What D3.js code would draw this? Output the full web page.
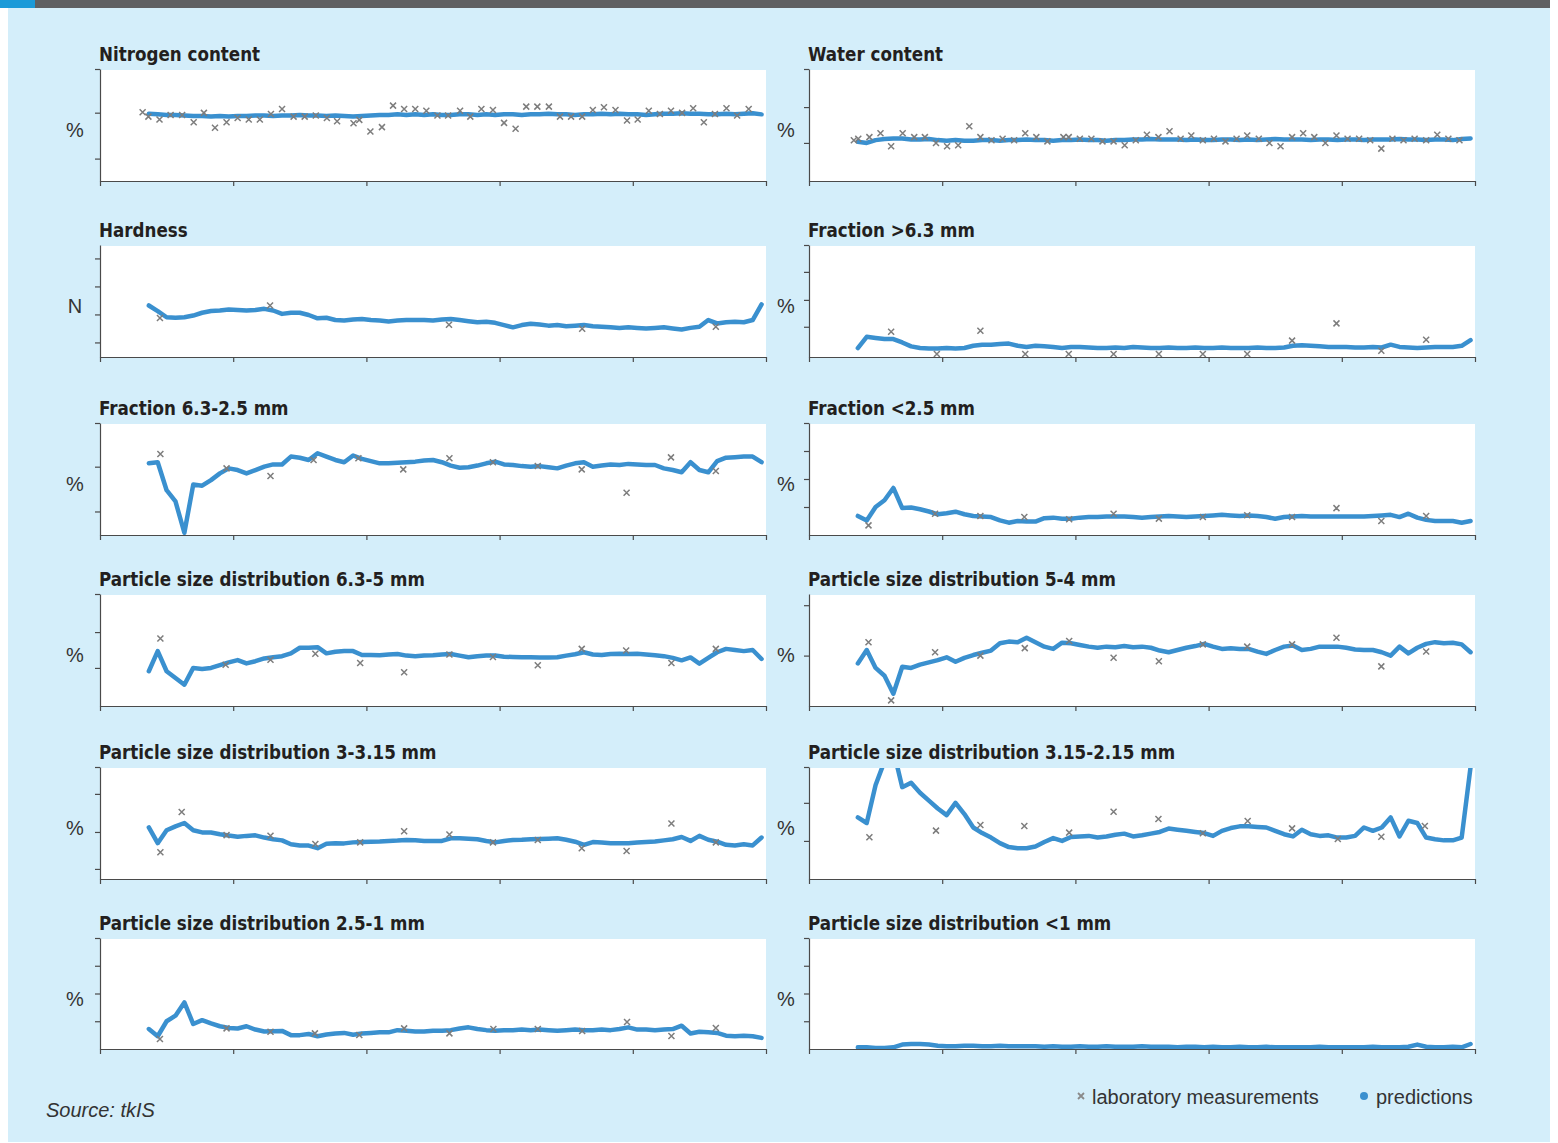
<!DOCTYPE html>
<html>
<head>
<meta charset="utf-8">
<script src="https://cdn.jsdelivr.net/npm/d3@7"></script>
<style>
  body { margin: 0; background: #fff; }
  svg text { font-family: "Liberation Sans", Arial, sans-serif; }
  svg text.title { font-family: "DejaVu Sans Condensed", "Liberation Sans", sans-serif; font-weight: bold; }
</style>
</head>
<body>
<script>
// ---- data (values in % of panel height, time in arbitrary units 0-150) ----
var timeTicks = [0, 30, 60, 90, 120, 150];
var predTimes = d3.range(11, 150, 2); // 70 prediction instants

var titles = [
  "Nitrogen content", "Water content",
  "Hardness", "Fraction >6.3 mm",
  "Fraction 6.3-2.5 mm", "Fraction <2.5 mm",
  "Particle size distribution 6.3-5 mm", "Particle size distribution 5-4 mm",
  "Particle size distribution 3-3.15 mm", "Particle size distribution 3.15-2.15 mm",
  "Particle size distribution 2.5-1 mm", "Particle size distribution <1 mm"
];
var units = ["%", "%", "N", "%", "%", "%", "%", "%", "%", "%", "%", "%"];
var yTicks = [
  [100, 61, 20], [100, 66, 34],
  [88, 63, 38, 13], [100, 76, 51, 27],
  [100, 61, 21], [100, 75, 50, 25],
  [100, 66, 34], [90, 45],
  [100, 76, 42, 9], [100, 68, 34],
  [100, 75, 50, 25], [100, 75, 50, 25]
];

var nitrogenPred = [60,59.5,59,59,58.5, 58,58,57.5,58,57.5, 58,58,58.5,58.5,58, 58.5,58.5,59,58.5,58.5,
  58,58.5,58,57.5,58, 58.5,59,59,59.5,59, 59.5,59,59.5,59,59, 59.5,59.5,59,59.5,59,
  59.5,59.5,59,59.5,59.5, 60,59.5,59.5,59,59.5, 59.5,60,59.5,60,59.5, 59.5,59,59.5,60,60,
  60.5,60,60,59.5,59.5, 60,59.5,60,60.5,59.5];
var nitrogenLabT = [9.6,10.9,13.4,15.9,18.5,21.1,23.4,25.9,28.5,31.0, 33.5,36.0,38.5,41.0,43.6,46.1,48.6,51.1,53.4,57.1,
  58.4,60.9,63.5,66.0,68.5,71.0,73.5,76.0,78.4,81.1, 83.4,85.9,88.5,91.0,93.6,96.0,98.5,101.1,103.6,106.1,
  108.6,111.0,113.5,116.1,118.7,121.1,123.6,126.1,128.6,131.1, 133.6,136.0,138.5,141.1,143.5,146.1];
var nitrogenLab = [61.3,57.5,54.9,59,59,52.5,60.8,47.5,52.5,56.3, 54.9,54.9,59.9,64.3,57.5,57.5,58.4,56.3,53.4,51.6,
  54.6,44.2,48.1,67.3,64.3,64.3,62.8,58.4,58.4,62.8, 57.5,64.3,63.4,51.9,46.6,66.4,66.4,66.4,57.5,57.5,
  57.5,63.4,65.8,63.4,54.0,54.9,62.8,59.9,62.8,60.8, 64.9,52.5,59.9,64.9,58.4,64.3];

var waterPred = [35,34,36.5,37.5,38, 38,37,37,37.5,36.5, 36,36.5,36,36,36.5,36.5,36,36.5,36.5,37,
  36.5,36.5,36,36.5,36.5,37,36.5,36.5,36,36.5, 36.5,37,37,37.5,37,37,37,36.5,37,36.5,
  36.5,37,37,36.5,37,36.5,37,37.5,37,37, 37,36.5,37,37,36.5,37,37,36.5,37,37,
  37,37.5,37,37,36.5,37,37,36.5,37.5,38];
var waterLabT = [10.1,11.1,13.6,16.1,18.5,21.1,23.7,26.1,28.6,31.1, 33.6,36.1,38.6,41.1,43.6,46.2,48.7,51.2,53.7,57.3,
  58.5,61.0,63.6,66.1,68.6,71.1,73.6,76.1,78.7,81.2, 83.7,86.1,88.7,91.2,93.8,96.3,98.7,101.3,103.7,106.2,
  108.8,111.3,113.8,116.3,118.8,121.3,123.9,126.4,128.9,131.4, 133.9,136.4,139.0,141.5,144.0,146.5];
var waterLab = [36.3,37.8,39.2,42.7,31.0,42.7,39.2,39.2,33.9,31.0, 31.9,48.9,39.2,36.3,37.8,36.3,42.7,39.2,35.4,39.2,
  39.2,37.8,37.8,35.4,35.4,31.9,36.3,41.3,39.2,44.5, 37.8,40.7,36.3,37.8,35.4,37.8,40.7,37.8,33.9,31.0,
  39.2,42.7,39.2,33.9,40.7,37.8,37.8,36.3,28.9,37.8, 36.3,37.8,36.3,41.3,37.8,36.3];

var hardnessPred = [46,41,35.5,35,35.5,37,39.5,41,41.5,42.5, 42,41.5,42,43,41.5,38.5,39.5,39.5,37.5,34.5,
  35,33,32.5,33.5,34,33,32.5,31.8,32.5,33, 33,33,32.5,33.5,34,33,32,31,31.5,30.5,
  28.5,26.5,28.5,29.7,29,28,28.5,27.5,28,28.5, 27.5,27,26.5,26,26.5,26,25.5,26,26.5,25.5,
  24.5,26,27,33,30,31,31.5,31,33,47];
var hardnessLabT = [13.5, 38.3, 78.6, 108.6, 138.7];
var hardnessLab = [34.9, 45.9, 28.8, 25.2, 27];

var coarsePred = [8,18,17,16,16,13,9.5,8,7.5,7.5, 8,7.5,8,10,11,11,11.5,12,10,9,
  10,9.5,9,8,9,9,8.5,8,8,8.5, 8,9,8.5,8,8,8.5,8,8,8.5,8,
  8,8.5,8,8,8,8.5,8,8,8.5,10, 10.5,10,9.5,9,9,9,8.5,8.5,9,8.5,
  11,9,8.5,8,8.5,9,9,9,10,15];
var coarseLabT = [18.5,28.8,38.6,48.7,58.5,68.6,78.8,88.7,98.7,108.8,118.8,128.9,139.0];
var coarseLab = [22.6,2.7,23.5,2.7,2.7,2.7,2.7,2.7,2.7,14.6,30,5.6,15.4];

var midPred = [64,65,40,30,2,45,44,49,55,59.5, 58,55,58,61,63,63,70,69,67,73,
  70,67,65,71,68,66,64,64,64.5,65, 65.5,66.5,67,65,62,60,60.5,62,64,65.5,
  63,62.5,61.5,61,61.5,60.5,59.5,62,64,65, 61,62,63,62.5,63.5,63,62.5,62.5,59.5,58,
  56,65,58,56,66,69,69.5,70,70,65];
var midLabT = [13.6,28.5,38.4,48.1,58.2,68.3,78.7,88.5,98.6,108.5,118.6,128.6,138.7];
var midLab = [72.3,59.5,52.7,67,68.5,58.6,68.5,65,61.6,58.6,37.8,69.3,57.1];

var finePred = [17,13,25,31,42,24,24.5,23,21,18.5, 19.5,20.8,18.5,17,16.5,16,13,11,12.5,12,
  12,15,15.5,14.5,14.5,15.5,16,16,16.5,16.5, 16.5,16,15.5,16,16.5,17,16.5,16,16.5,17,
  17.5,18,17.5,17,17.5,17,16,14.5,16,16.5, 17,16.5,16.5,16.5,16.5,16.5,16.5,16.5,17,17.5,
  18,16,19,15.5,13.5,12.5,12.5,12.5,11,12.5];
var fineLabT = [13.4,28.4,38.6,48.5,58.6,68.6,78.8,88.7,98.7,108.8,118.8,128.9,139.0];
var fineLab = [8.6,19,17,16,14,19,14.6,16,17.6,16,24,12.5,17];

var psd635Pred = [31,49,31,25,19,34,33,34,36.5,39, 41,38,40,42.5,43.5,44.5,47,52,52,52.5,
  47,48.5,49,49,45.5,45.5,45.3,46,46.5,45, 44.5,45,45.3,46,46.5,45,43.5,44.5,45,45,
  44,43.7,43.5,43.5,43.4,43.4,43.5,45,46.2,48, 46,45.5,46.5,46.6,46.5,46.6,46,45.3,44.5,43,
  40.8,43.4,37.8,43,48,51,50,49,50,42];
var psd635LabT = [13.6,28.3,38.4,48.5,58.6,68.5,78.7,88.5,98.6,108.5,118.5,128.7,138.7];
var psd635Lab = [60.2,36.9,41.3,46.6,38.4,30.1,46,43.7,36.3,51,49.6,38.4,51];

var psd54Pred = [38,50,34,27,11,35,34,37,39,41, 43.5,39.5,43,45.5,47.5,49.5,56,57.5,57,61,
  57,53,51,56.5,56,54.5,53,52,53,52.5, 53.5,52.5,53,52,49.5,48,50,52,53.5,55.5,
  53,51,51.5,51,51,48.5,46.5,50,53,54, 50,51,53,53,53,52,50.5,50,50,48,
  45,53,47,52,55.5,57,56,56.5,55,48];
var psd54LabT = [13.4,18.5,28.4,38.6,48.6,58.6,68.6,78.8,88.7,98.7,108.8,118.8,128.9,139.0];
var psd54Lab = [57,5,48,45,51.7,58,43,40,55,53,55,61,35.4,48.6];

var psd3315Pred = [46,32,43.5,47,50,43.5,41.6,41.5,40,38.8, 37.8,38.5,39,37,35.5,34.5,31,30,29.8,27.5,
  31.5,32,31.8,32.7,33,33.3,33.5,34,34.3,34.8, 34.5,34,33.9,34,36.3,36.3,36,35.5,34,32.7,
  34,34.8,35,35.5,35.7,36,36.3,35,33.3,30.5, 33,32.5,32,31.9,32,32.5,33,33.5,34.5,35.5,
  37.5,34,38.5,35,33.3,30.5,30,31,30,37];
var psd3315LabT = [13.6,18.4,28.5,38.4,48.5,58.6,68.5,78.7,88.5,98.6,108.5,118.6,128.7,138.7];
var psd3315Lab = [23.9,59.9,39.2,38.7,31.2,32.7,42.7,39.8,32.7,34.8,27.4,25,49.6,32.7];

var psd31521Pred = [55,50,84,105,115,82,86,77,70,63, 57,68,58,46,41,37,32,28.5,27.5,27.5,
  29,33,36.5,34,37.5,38,38.5,37,38,39.5, 40.5,38,39,40.5,42,45,44,43,42,41,
  38.5,43,45.5,47,47,46.5,46,43,40,38, 44,40,38.5,39,37,37,38.5,46,43,46,
  55,38,52,50,37,35.5,34.5,34.5,37,100];
var psd31521LabT = [13.6,28.6,38.6,48.5,58.6,68.6,78.7,88.7,98.8,108.8,119.1,128.9,138.7];
var psd31521Lab = [37.2,43.2,48.2,47.3,41.4,60.1,53.6,40.8,51.8,45.2,35.7,37.8,47.3];

var psd251Pred = [18,11.5,25,30,42,22.5,26,23,20.5,19, 18.5,20.5,17.5,15.8,16,16.3,12.5,12.5,13.5,11.5,
  13,14,14.5,12.8,14,14.5,15,15,17,16.5, 15.8,15.8,16.5,16.5,17,18.5,19.5,18,17,16.5,
  16.8,17,17.5,17,17.5,17,16.5,17,17.5,17, 17,17.5,17,18,19.5,17.5,17.5,17,17.5,18,
  21,14,15.5,15,14.5,12,11.5,12,11.5,10];
var psd251LabT = [13.5,28.5,38.4,48.4,58.4,68.5,78.7,88.6,98.6,108.6,118.7,128.7,138.7];
var psd251Lab = [9,18.6,15.6,14.1,12.6,18.6,14.1,18,18,16.2,24.3,11.7,18.9];

var psdLt1Pred = [1.5,1.5,1,1,1.5,4,4.5,4.5,4,3, 2.5,2.5,3,3,2.5,2.5,3,2.5,2.5,2.5,
  2.5,2,2.5,2,2,2.5,2,2,2.5,2, 2,2,2.5,2,2,2,1.5,2,2,1.5,
  2,1.5,1.5,2,1.5,1.5,2,1.5,1.5,1.5, 1.5,1.5,2,1.5,1.5,1.5,1.5,1.5,2,1.5,
  1.5,1.5,2,4,2,1.5,1.5,2,1.5,4.5];
var psdLt1LabT = [];
var psdLt1Lab = [];

var predSeries = [nitrogenPred, waterPred, hardnessPred, coarsePred, midPred, finePred,
  psd635Pred, psd54Pred, psd3315Pred, psd31521Pred, psd251Pred, psdLt1Pred];
var labTimes = [nitrogenLabT, waterLabT, hardnessLabT, coarseLabT, midLabT, fineLabT,
  psd635LabT, psd54LabT, psd3315LabT, psd31521LabT, psd251LabT, psdLt1LabT];
var labValues = [nitrogenLab, waterLab, hardnessLab, coarseLab, midLab, fineLab,
  psd635Lab, psd54Lab, psd3315Lab, psd31521Lab, psd251Lab, psdLt1Lab];

// ---- layout ----
var width = 1558, height = 1143;
var colLeft = [100, 809], colRight = [766, 1475];
var rowTop = [69, 245, 423, 594, 767, 938], rowBottom = [181, 357, 535, 706, 879, 1049];
var blue = "#3a90cf", labColor = "#7d7d7d", ink = "#231f20";

var svg = d3.select("body").append("svg")
  .attr("width", width)
  .attr("height", height);

svg.append("rect").attr("width", width).attr("height", height).attr("fill", "#fff");
svg.append("rect").attr("x", 8).attr("y", 8).attr("width", 1542).attr("height", 1134).attr("fill", "#d4eefa");
svg.append("rect").attr("x", 0).attr("y", 0).attr("width", 1550).attr("height", 8).attr("fill", "#5f6062");
svg.append("rect").attr("x", 0).attr("y", 0).attr("width", 35).attr("height", 8).attr("fill", "#1b9ad8");

var crossPath = "M-3,-3L3,3M-3,3L3,-3";

titles.forEach(function(title, i) {
  var col = i % 2, row = Math.floor(i / 2);
  var left = colLeft[col], right = colRight[col];
  var top = rowTop[row], bottom = rowBottom[row];

  var xScale = d3.scaleLinear().domain([0, 150]).range([left, right]);
  var yScale = d3.scaleLinear().domain([0, 100]).range([bottom, top]);

  var g = svg.append("g");

  g.append("rect")
    .attr("x", left).attr("y", top + 1)
    .attr("width", right - left).attr("height", bottom - top - 1)
    .attr("fill", "#fff");

  g.append("clipPath").attr("id", "clip" + i)
    .append("rect")
    .attr("x", left).attr("y", top + 1)
    .attr("width", right - left + 2).attr("height", bottom - top - 1);

  //title
  g.append("text")
    .attr("class", "title")
    .attr("x", left - 1).attr("y", top - 8)
    .attr("font-size", 18.6)
    .attr("fill", ink)
    .text(title);

  //unit
  g.append("text")
    .attr("x", col === 0 ? 75 : 786).attr("y", (top + bottom) / 2 + 12)
    .attr("text-anchor", "middle")
    .attr("font-size", 20)
    .attr("fill", "#333")
    .text(units[i]);

  //predictions
  var line = d3.line()
    .x(function(d, k) { return xScale(predTimes[k]); })
    .y(function(d) { return yScale(d); });

  g.append("path")
    .datum(predSeries[i])
    .attr("clip-path", "url(#clip" + i + ")")
    .attr("d", line)
    .attr("fill", "none")
    .attr("stroke", blue)
    .attr("stroke-width", 4.5)
    .attr("stroke-linejoin", "round")
    .attr("stroke-linecap", "round");

  //laboratory measurements
  g.selectAll(".lab")
    .data(labValues[i])
    .enter()
    .append("path")
    .attr("class", "lab")
    .attr("d", crossPath)
    .attr("transform", function(d, k) {
      return "translate(" + xScale(labTimes[i][k]) + "," + yScale(d) + ")";
    })
    .attr("stroke", labColor)
    .attr("stroke-width", 1.5)
    .attr("fill", "none");

  var yAxis = d3.axisLeft(yScale).tickValues(yTicks[i]).tickSize(5).tickSizeOuter(0).tickFormat("");
  var xAxis = d3.axisBottom(xScale).tickValues(timeTicks).tickSize(5).tickSizeOuter(0).tickFormat("");

  var ya = g.append("g").attr("transform", "translate(" + left + ",0)").call(yAxis);
  var xa = g.append("g").attr("transform", "translate(0," + bottom + ")").call(xAxis);
  [ya, xa].forEach(function(a) {
    a.selectAll("path, line").attr("stroke", "#4a4a4a").attr("stroke-width", 1.2);
  });
});

// legend
var legend = svg.append("g");
legend.append("path")
  .attr("d", crossPath)
  .attr("transform", "translate(1081,1096)")
  .attr("stroke", "#8a8a8a").attr("stroke-width", 1.8);
legend.append("text")
  .attr("x", 1092).attr("y", 1104)
  .attr("font-size", 20).attr("fill", "#333")
  .text("laboratory measurements");
legend.append("circle")
  .attr("cx", 1364).attr("cy", 1096).attr("r", 4)
  .attr("fill", blue);
legend.append("text")
  .attr("x", 1376).attr("y", 1104)
  .attr("font-size", 20).attr("fill", "#333")
  .text("predictions");

svg.append("text")
  .attr("x", 46).attr("y", 1117)
  .attr("font-size", 20).attr("font-style", "italic")
  .attr("fill", "#333")
  .text("Source: tkIS");
</script>
</body>
</html>
